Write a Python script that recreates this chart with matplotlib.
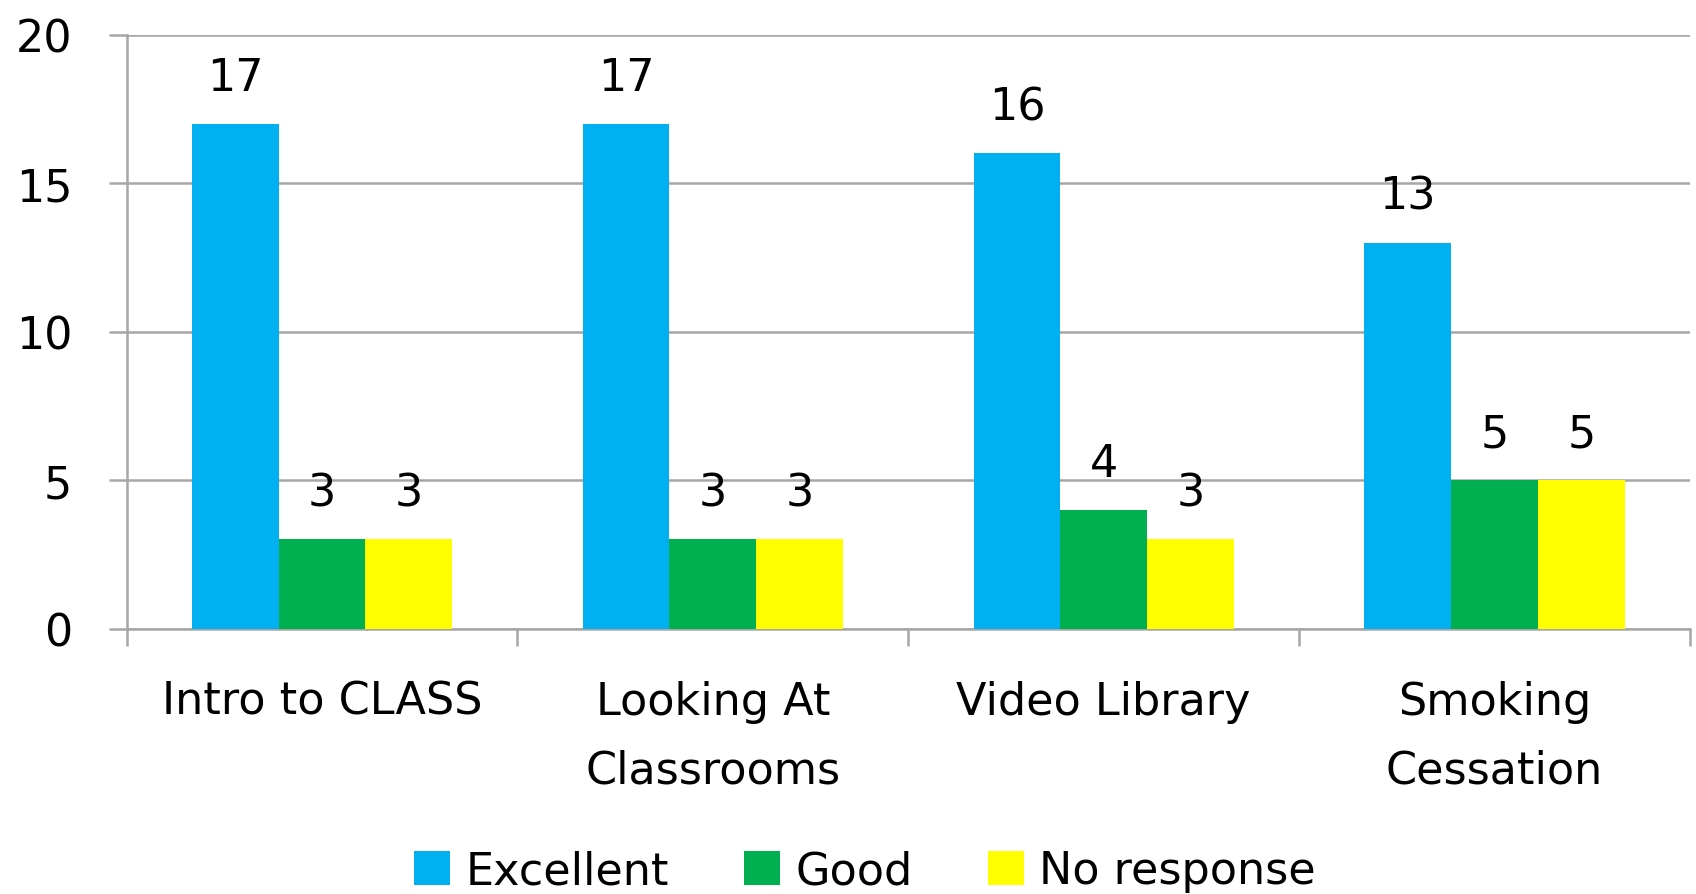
import numpy as np
import matplotlib.pyplot as plt
from matplotlib.patches import Patch

categories = ["Intro to CLASS", "Looking At\nClassrooms", "Video Library", "Smoking\nCessation"]
series = ["Excellent", "Good", "No response"]
excellent = [17, 17, 16, 13]
good = [3, 3, 4, 5]
no_response = [3, 3, 3, 5]
y_ticks = [0, 5, 10, 15, 20]
colors = ["#00B0F0", "#00B050", "#FFFF00"]

values = [excellent, good, no_response]
fs = 32

fig = plt.figure(figsize=(16.96, 8.95), dpi=100)
ax = fig.add_axes([0.0746, 0.2966, 0.9219, 0.6635])

x = np.arange(len(categories))
w = 0.222
for i, (vals, c) in enumerate(zip(values, colors)):
    pos = x + (i - 1) * w
    ax.bar(pos, vals, width=w, color=c, zorder=3)
    for p, v in zip(pos, vals):
        ax.annotate(str(v), (p, v), xytext=(0, 18), textcoords="offset points",
                    ha="center", va="bottom", fontsize=fs)

ax.set_xlim(-0.5, len(categories) - 0.5)
ax.set_ylim(0, 20)
ax.set_yticks(y_ticks)
grid_c = "#A6A6A6"
ax.yaxis.grid(True, color=grid_c, linewidth=1.8, zorder=0)

for s in ["top", "right"]:
    ax.spines[s].set_visible(False)
for s in ["left", "bottom"]:
    ax.spines[s].set_color(grid_c)
    ax.spines[s].set_linewidth(1.8)

# boundaries get the tick marks, category names sit between them
ax.set_xticks(np.arange(len(categories) + 1) - 0.5)
ax.set_xticklabels([])
ax.set_xticks(x, minor=True)
ax.set_xticklabels(categories, minor=True, fontsize=fs, linespacing=1.75)
ax.tick_params(axis="x", which="major", length=12, width=1.8, color=grid_c)
ax.tick_params(axis="x", which="minor", length=0, pad=37)
ax.tick_params(axis="y", length=13, width=1.8, color=grid_c, labelsize=fs, pad=26)

handles = [Patch(facecolor=c, label=s) for s, c in zip(series, colors)]
fig.legend(handles=handles, loc="center", bbox_to_anchor=(0.51, 0.026), ncol=3,
           frameon=False, fontsize=fs, handlelength=0.8, handleheight=0.8,
           handletextpad=0.35, columnspacing=1.7)

fig.savefig("out.png", dpi=100)
